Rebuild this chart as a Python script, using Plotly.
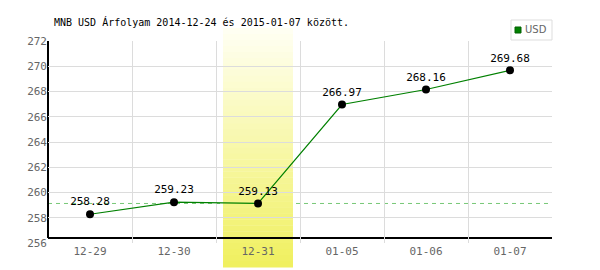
import plotly.graph_objects as go

categories = ["12-29", "12-30", "12-31", "01-05", "01-06", "01-07"]
values = [258.28, 259.23, 259.13, 266.97, 268.16, 269.68]
labels = ["258.28", "259.23", "259.13", "266.97", "268.16", "269.68"]
highlight_index = 2
reference_value = 259.13
y_ticks = [256, 258, 260, 262, 264, 266, 268, 270, 272]
title = "MNB USD Árfolyam 2014-12-24 és 2015-01-07 között."
series_name = "USD"

W, H = 600, 270
L, R, T, B = 48, 48, 41, 27
pw, ph = W - L - R, H - T - B

def px_x(p):
    return (p - L) / pw

def px_y(p):
    return (H - B - p) / ph

mono = "DejaVu Sans Mono"
fig = go.Figure()
fig.add_trace(go.Scatter(
    x=categories, y=values, mode="lines+markers+text",
    line=dict(color="#008000", width=1.2),
    marker=dict(color="black", size=8),
    text=labels, textposition="top center",
    textfont=dict(family=mono, size=11, color="black"),
    showlegend=False, cliponaxis=False, hoverinfo="skip",
))

shapes = []
# dashed reference line
shapes.append(dict(type="line", xref="paper", yref="y", x0=0, x1=1,
                   y0=reference_value, y1=reference_value,
                   line=dict(color="#78c878", width=1, dash="4px,4px"), layer="between"))
# gradient highlight band
n = len(categories)
cx = (highlight_index + 0.5) / n
hw = 35 / pw
top_p, bot_p = px_y(28), px_y(267)
steps = 40
c0 = (255, 255, 242)
c1 = (240, 240, 96)
for i in range(steps):
    f = i / (steps - 1)
    col = tuple(int(round(c0[k] + (c1[k] - c0[k]) * f)) for k in range(3))
    y1 = top_p - (top_p - bot_p) * i / steps
    y0 = top_p - (top_p - bot_p) * (i + 1) / steps
    shapes.append(dict(type="rect", xref="paper", yref="paper",
                       x0=cx - hw, x1=cx + hw, y0=y0 - 0.002, y1=y1,
                       fillcolor="rgb(%d,%d,%d)" % col, line=dict(width=0),
                       layer="between"))
# axis lines
ax_y = px_y(238)
shapes.append(dict(type="line", xref="paper", yref="paper", x0=0, x1=1, y0=ax_y, y1=ax_y,
                   line=dict(color="black", width=2), layer="between"))
shapes.append(dict(type="line", xref="paper", yref="paper", x0=0, x1=0, y0=ax_y, y1=1,
                   line=dict(color="black", width=2), layer="between"))
# legend box
shapes.append(dict(type="rect", xref="paper", yref="paper",
                   x0=px_x(511), x1=px_x(552), y0=px_y(40), y1=px_y(20),
                   fillcolor="white", line=dict(color="#dddddd", width=1)))
shapes.append(dict(type="rect", xref="paper", yref="paper",
                   x0=px_x(515), x1=px_x(521), y0=px_y(33), y1=px_y(27),
                   fillcolor="#008000", line=dict(color="#006000", width=1)))

annotations = [
    dict(text=title, xref="paper", yref="paper", x=px_x(52), y=px_y(22),
         xanchor="left", yanchor="middle", showarrow=False,
         font=dict(family=mono, size=10, color="black")),
    dict(text=series_name, xref="paper", yref="paper", x=px_x(523), y=px_y(30),
         xanchor="left", yanchor="middle", showarrow=False,
         font=dict(family="DejaVu Sans", size=10, color="#666666")),
]

fig.update_layout(
    width=W, height=H, margin=dict(l=L, r=R, t=T, b=B),
    paper_bgcolor="white", plot_bgcolor="white",
    shapes=shapes, annotations=annotations, showlegend=False,
    xaxis=dict(type="category", range=[-0.5, n - 0.5], tickson="boundaries",
               showgrid=True, gridcolor="#dcdcdc", gridwidth=1,
               showline=False, zeroline=False, ticks="",
               tickfont=dict(family=mono, size=11, color="#666666")),
    yaxis=dict(range=[256, 272], tickvals=y_ticks, showgrid=True,
               gridcolor="#dcdcdc", gridwidth=1, zeroline=False, showline=False,
               ticks="", tickfont=dict(family=mono, size=11, color="#666666")),
)
fig.write_html("out.html")
